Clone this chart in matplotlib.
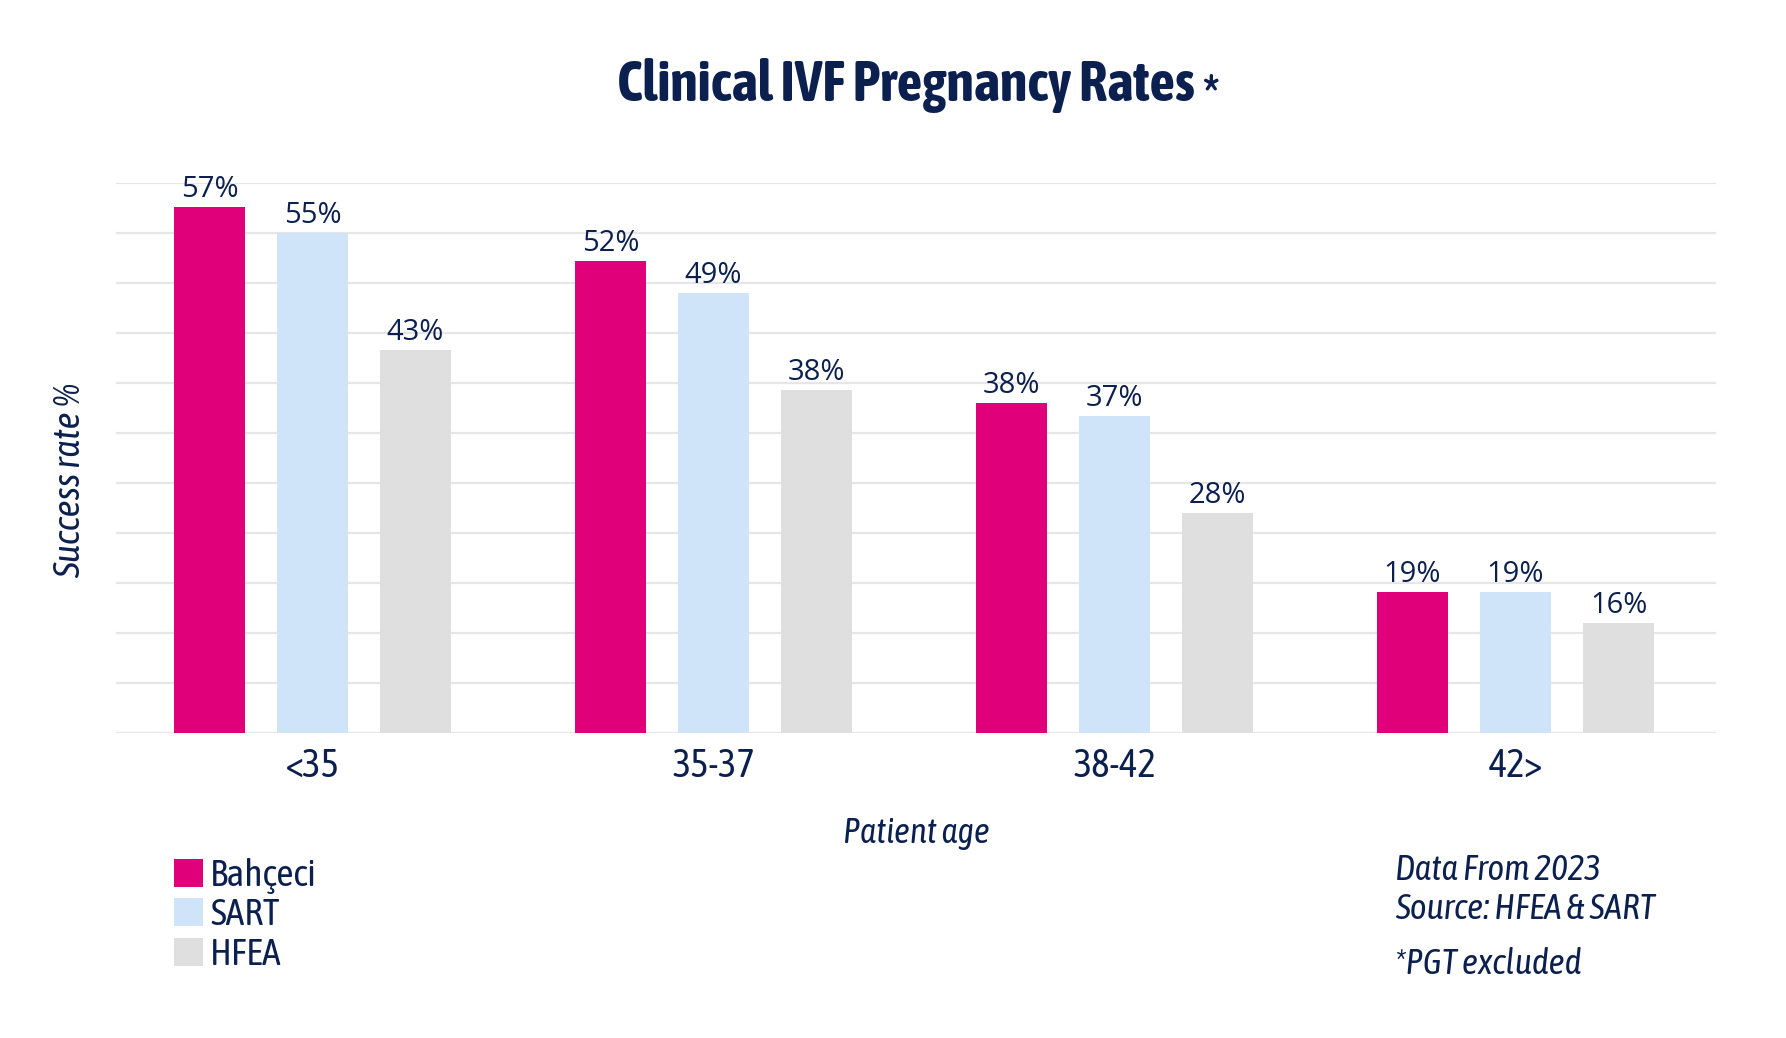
import matplotlib
matplotlib.use("Agg")
import numpy as np
import matplotlib.pyplot as plt
from matplotlib.patches import Patch

# data
age_groups = ["<35", "35-37", "38-42", "42>"]
series = ["Bahçeci", "SART", "HFEA"]
# bar heights as drawn, on the chart's own gridline scale (0..55, step 5)
bahceci_heights = [52.6, 47.2, 33.0, 14.1]
sart_heights = [50.0, 44.0, 31.7, 14.1]
hfea_heights = [38.3, 34.3, 22.0, 11.0]
# printed value labels
bahceci_labels = [57, 52, 38, 19]
sart_labels = [55, 49, 37, 19]
hfea_labels = [43, 38, 28, 16]

NAVY = "#0c2050"
colors = ["#e0007a", "#d0e4f9", "#dfdfdf"]
GRID = "#e6e6e6"
COND = ["Asap Condensed", "Open Sans", "DejaVu Sans"]
WIDE = ["Open Sans", "DejaVu Sans"]

fig = plt.figure(figsize=(17.86, 10.38), dpi=100)
W, H = 1786, 1038
ax = fig.add_axes([116 / W, 1 - 733 / H, 1600 / W, 550 / H])

x = np.arange(len(age_groups))
width = 0.178
offset = 0.257
heights = [bahceci_heights, sart_heights, hfea_heights]
labels = [bahceci_labels, sart_labels, hfea_labels]

for k in range(3):
    bars = ax.bar(x + (k - 1) * offset, heights[k], width, color=colors[k], zorder=3)
    for b, v in zip(bars, labels[k]):
        ax.annotate("{}%".format(v), (b.get_x() + b.get_width() / 2, b.get_height()),
                    xytext=(0, 10), textcoords="offset pixels", ha="center", va="baseline",
                    fontsize=21, color=NAVY, family=WIDE, zorder=4)

ax.set_xlim(-0.49, 3.5)
ax.set_ylim(0, 55)
ax.set_yticks(np.arange(0, 56, 5))
ax.yaxis.grid(True, color=GRID, linewidth=1.6, zorder=0)
ax.tick_params(axis="y", length=0, labelleft=False)
ax.tick_params(axis="x", length=0, pad=10)
ax.set_xticks(x, age_groups, fontsize=28, color=NAVY, family=COND)
for s in ax.spines.values():
    s.set_visible(False)

ax.set_ylabel("Success rate %", fontsize=27, color=NAVY, family=COND, style="italic", va="center")
ax.yaxis.set_label_coords(-0.029, 0.46)
ax.set_xlabel("Patient age", fontsize=25, color=NAVY, family=COND, style="italic", va="baseline")
ax.xaxis.set_label_coords(0.5, (733 - 843) / 550)

# title with asterisk
fig.text(1195 / W, 1 - 101 / H, "Clinical IVF Pregnancy Rates", ha="right", va="baseline",
         fontsize=40.5, fontweight="bold", color=NAVY, family=COND)
fig.text(1203 / W, 1 - 114 / H, "*", ha="left", va="baseline",
         fontsize=40, fontweight="bold", color=NAVY, family=COND)

# legend
handles = [Patch(facecolor=c, edgecolor="none") for c in colors]
leg = ax.legend(handles, series, loc="upper left", bbox_to_anchor=(174 / W, 1 - 858 / H),
                bbox_transform=fig.transFigure, frameon=False,
                handlelength=0.78, handleheight=0.78, handletextpad=0.18,
                labelspacing=0.09, borderpad=0, borderaxespad=0, prop={"family": COND, "size": 27})
for t in leg.get_texts():
    t.set_color(NAVY)

# notes
notes = [("Data From 2023", 880), ("Source: HFEA & SART", 919), ("*PGT excluded", 974)]
for txt, yb in notes:
    fig.text(1395 / W, 1 - yb / H, txt, ha="left", va="baseline", fontsize=25.5,
             color=NAVY, family=COND, style="italic")

fig.savefig("out.png", dpi=100, facecolor="white")
